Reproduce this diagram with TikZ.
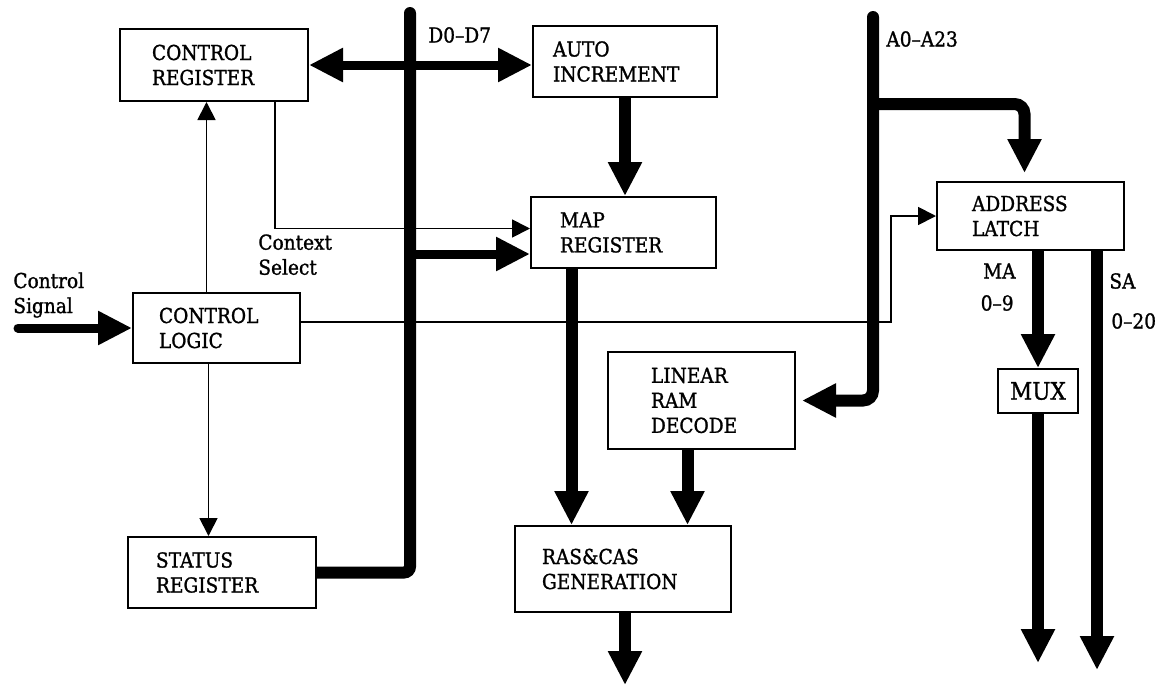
\documentclass[tikz,border=0pt]{standalone}
\usepackage{fontspec}
\setmainfont{DejaVu Serif}[FakeStretch=0.9,FakeBold=1.2]
\usepackage{tikz}
\usetikzlibrary{positioning,arrows.meta,calc}

\begin{document}
\begin{tikzpicture}[
    x=0.5pt,y=-0.5pt,
    font=\fontsize{10.3}{12.5}\selectfont,
    >={Triangle[length=17pt,width=16pt]},
    blk/.style 2 args={draw,line width=1pt,align=left,text width=#1,
                inner xsep=#2,inner ysep=0pt},
    bus/.style={line width=6pt},
    fat/.style={line width=4.5pt},
    wire/.style={line width=0.9pt,-{Triangle[length=9pt,width=9pt]}},
    lbl/.style={inner sep=0pt},
]
\useasboundingbox (0,0) rectangle (1167,686);

% =====================================================================
%  blocks
% =====================================================================
\node[blk={62pt}{16pt},minimum height=36pt]     (ctrlreg)   at (214,65)     {CONTROL\\REGISTER};
\node[blk={57.5pt}{13pt},minimum height=35pt]   (ctrllogic) at (216.5,328)  {CONTROL\\LOGIC};
\node[blk={66pt}{14pt},minimum height=35.5pt]   (statusreg) at (222,572.5)  {STATUS\\REGISTER};
\node[blk={72pt}{10pt},minimum height=35.5pt]   (autoinc)   at (625,61.5)   {AUTO\\INCREMENT};
\node[blk={63.5pt}{14.5pt},minimum height=35.5pt] (mapreg)  at (623.5,232.5) {MAP\\REGISTER};
\node[blk={50.5pt}{21.5pt},minimum height=48.5pt] (ramdec)  at (701.5,400.5) {LINEAR\\RAM\\DECODE};
\node[blk={81pt}{13.5pt},minimum height=43pt]   (rascas)    at (623,569)    {RAS\&CAS\\GENERATION};
\node[blk={58.5pt}{17.5pt},minimum height=34pt] (addrlatch) at (1030.5,216) {ADDRESS\\LATCH};
\node[draw,line width=1pt,minimum width=40pt,minimum height=22pt,inner sep=0pt,
      font=\fontsize{12}{14}\selectfont] (mux) at (1038,391) {MUX};

% =====================================================================
%  data bus D0-D7
% =====================================================================
\coordinate (dtop) at (410,13);
\coordinate (dmap) at (410,254);
\draw[bus,rounded corners=3pt] (statusreg.east) -| (dtop);
\draw[bus,line cap=round] (dtop) -- ++(0,6);
\draw[fat,<->] (ctrlreg.east) -- (ctrlreg.east -| autoinc.west);
\draw[fat,->] (dmap) -- (dmap -| mapreg.west);
\draw[bus,->] (autoinc.south) -- (autoinc.south |- mapreg.north);
\node[lbl,anchor=west] (dlbl) at (428,35) {D0--D7};

% control signal and control logic wiring
\coordinate (csig) at (18,328);
\draw[fat,->,line cap=round] (csig) -- (ctrllogic.west);
\node[lbl,anchor=north west,align=left] (siglbl) at (13,272) {Control\\Signal};

\draw[wire] ([xshift=-5pt]ctrllogic.north) -- ([xshift=-5pt]ctrllogic.north |- ctrlreg.south);
\draw[wire] ([xshift=-4pt]ctrllogic.south) -- ([xshift=-4pt]ctrllogic.south |- statusreg.north);
\draw[wire] ([xshift=30.5pt]ctrlreg.south) |- ([yshift=2pt]mapreg.west);
\node[lbl,anchor=north west,align=left] (ctxlbl) at (258,234) {Context\\Select};

\coordinate (albend) at (891,322);
\draw[wire] ([yshift=3pt]ctrllogic.east) -- (albend) |- (addrlatch.west);

% =====================================================================
%  address bus A0-A23
% =====================================================================
\coordinate (atop) at (873,17);
\coordinate (abr)  at (873,104);
\draw[bus,->,line cap=round,rounded corners=5pt,shorten >=3pt] (atop) |- (ramdec.east);
\draw[bus,->,rounded corners=5pt,shorten >=4pt] (abr) -| ([xshift=-3pt]addrlatch.north);
\node[lbl,anchor=west] (albl) at (886,39) {A0--A23};

% MA / SA outputs
\coordinate (saend)  at (1097,670);
\coordinate (muxend) at (1038,663);
\draw[bus,->] (mux.north |- addrlatch.south) -- (mux.north);
\draw[bus,->] (mux.south) -- (muxend);
\draw[bus,->] (saend |- addrlatch.south) -- (saend);
\node[lbl,anchor=east] (malbl) at (1016,271) {MA};
\node[lbl,anchor=east] (marng) at (1014,303) {0--9};
\node[lbl,anchor=west] (salbl) at (1109,281) {SA};
\node[lbl,anchor=west] (sarng) at (1111,321) {0--20};

% =====================================================================
%  RAS/CAS generation
% =====================================================================
\coordinate (rcend) at (625,685);
\draw[bus,->] ([xshift=-26pt]mapreg.south) -- ([xshift=-26pt]mapreg.south |- rascas.north);
\draw[bus,->] ([xshift=-7pt]ramdec.south) -- ([xshift=-7pt]ramdec.south |- rascas.north);
\draw[bus,->] (rcend |- rascas.south) -- (rcend);

\end{tikzpicture}
\end{document}
